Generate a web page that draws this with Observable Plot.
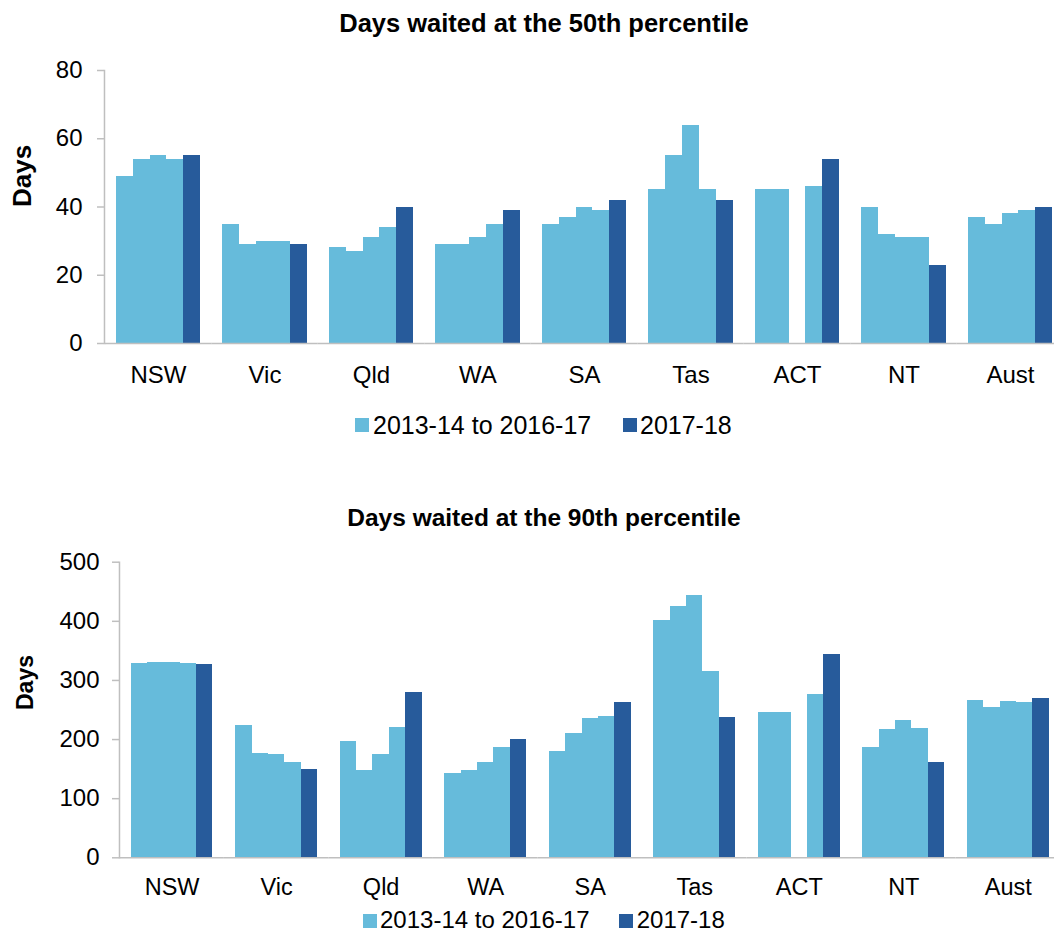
<!DOCTYPE html>
<html><head><meta charset="utf-8">
<script src="https://cdn.jsdelivr.net/npm/d3@7"></script>
<script src="https://cdn.jsdelivr.net/npm/@observablehq/plot@0.6"></script>
<style>
body{margin:0;background:#fff;font-family:"Liberation Sans",Arial,sans-serif;}
#wrap{position:relative;width:1054px;height:933px;}
.title{position:absolute;left:0;width:1088px;text-align:center;font-weight:bold;line-height:1;white-space:nowrap;color:#000;z-index:2;}
.panel{position:absolute;left:0;z-index:1;}
.lt{position:absolute;white-space:nowrap;color:#000;z-index:2;}
.sw{position:absolute;width:14px;height:14px;z-index:2;}
</style></head><body><div id="wrap"></div>
<script>
const states = ["NSW","Vic","Qld","WA","SA","Tas","ACT","NT","Aust"];
const years = ["2013-14","2014-15","2015-16","2016-17","2017-18"];
const seriesNames = ["2013-14 to 2016-17","2017-18"];
const colors = ["#66bbdb","#275b9b"];

// Days waited at the 50th percentile (per state, per year)
const p50NSW = [49, 54, 55, 54, 55];
const p50Vic = [35, 29, 30, 30, 29];
const p50Qld = [28, 27, 31, 34, 40];
const p50WA  = [29, 29, 31, 35, 39];
const p50SA  = [35, 37, 40, 39, 42];
const p50Tas = [45, 55, 64, 45, 42];
const p50ACT = [45, 45, null, 46, 54];
const p50NT  = [40, 32, 31, 31, 23];
const p50Aust= [37, 35, 38, 39, 40];

// Days waited at the 90th percentile
const p90NSW = [329, 331, 330, 328, 327];
const p90Vic = [223, 177, 174, 162, 150];
const p90Qld = [197, 147, 174, 220, 280];
const p90WA  = [143, 148, 161, 187, 200];
const p90SA  = [180, 211, 236, 239, 262];
const p90Tas = [402, 425, 444, 315, 238];
const p90ACT = [246, 245, null, 277, 344];
const p90NT  = [187, 217, 233, 219, 161];
const p90Aust= [266, 254, 264, 262, 269];

const ticks50 = [0, 20, 40, 60, 80];
const ticks90 = [0, 100, 200, 300, 400, 500];

const p50 = [p50NSW,p50Vic,p50Qld,p50WA,p50SA,p50Tas,p50ACT,p50NT,p50Aust];
const p90 = [p90NSW,p90Vic,p90Qld,p90WA,p90SA,p90Tas,p90ACT,p90NT,p90Aust];

const gray = "#bfbfbf";
const font = "'Liberation Sans', Arial, sans-serif";

function toRows(values) {
  return states.flatMap((s, i) => years.map((yr, j) => ({
    state: s, year: yr, value: values[i][j], series: j < 4 ? seriesNames[0] : seriesNames[1]
  }))).filter(d => d.value != null);
}

function panel(values, ticks, o) {
  return Plot.plot({
    width: 1054, height: o.height,
    marginLeft: o.ml, marginRight: 0, marginTop: o.mt, marginBottom: o.mb,
    style: {fontFamily: font, fontSize: "24px", background: "white", color: "#000"},
    fx: {domain: states, range: o.fxRange, paddingInner: o.pi, paddingOuter: o.pi / 2, round: false, label: null},
    x: {domain: years, padding: 0, round: false, axis: null},
    y: {domain: [0, ticks[ticks.length - 1]], label: null},
    color: {domain: seriesNames, range: colors},
    marks: [
      Plot.barY(toRows(values), {fx: "state", x: "year", y: "value", fill: "series", inset: 0, shapeRendering: "crispEdges"}),
      Plot.ruleY([0], {stroke: gray, strokeWidth: 1.5, insetLeft: -o.halfGap, insetRight: -o.halfGap}),
      Plot.frame({anchor: "left", facetAnchor: "left", dx: o.axDx, stroke: gray, strokeWidth: 1.5}),
      Plot.axisY({ticks, tickSize: 7, tickPadding: o.tp, dx: o.axDx, stroke: gray, strokeWidth: 1.5, fill: "#000", fontSize: 24, label: null}),
      Plot.axisFx({anchor: "bottom", tickSize: 0, tickPadding: o.fxtp, fontSize: o.fxfs, fill: "#000", label: null}),
      Plot.text(["Days"], {frameAnchor: "left", facetAnchor: "left", dx: o.daysDx, rotate: -90, fontWeight: "bold", fontSize: o.daysFs, fill: "#000"})
    ]
  });
}

const wrap = document.getElementById("wrap");

function addTitle(text, baseline, fs) {
  const d = document.createElement("div");
  d.className = "title"; d.textContent = text;
  d.style.top = (baseline - fs * 0.8465) + "px"; d.style.fontSize = fs + "px";
  wrap.appendChild(d);
}
function addLegend(items) {
  const L = 0.9;
  for (const it of items) {
    const s = document.createElement("div");
    s.className = "sw"; s.style.left = it.sx + "px"; s.style.top = it.sy + "px"; s.style.background = it.color;
    wrap.appendChild(s);
    const t = document.createElement("div");
    t.className = "lt"; t.textContent = it.label; t.style.left = it.tx + "px";
    t.style.lineHeight = L; t.style.fontSize = it.fs + "px";
    t.style.top = (it.base - it.fs * (L / 2 + 0.3465)) + "px";
    wrap.appendChild(t);
  }
}

const c1 = panel(p50, ticks50, {height: 395, ml: 104, mt: 70, mb: 52, fxRange: [104.75, 1063.25], pi: 0.211, halfGap: 11.25, tp: 15, axDx: -12, fxtp: 22, fxfs: 24, daysDx: -93.5, daysFs: 26});
c1.classList.add("panel"); c1.style.top = "0px";
wrap.appendChild(c1);
addTitle("Days waited at the 50th percentile", 33, 25.5);
addLegend([
  {label: seriesNames[0], color: colors[0], sx: 355, sy: 418, tx: 373, base: 434, fs: 25},
  {label: seriesNames[1], color: colors[1], sx: 622.5, sy: 418, tx: 640, base: 434, fs: 25}
]);

const c2 = panel(p90, ticks90, {height: 400, ml: 119, mt: 61.7, mb: 42.7, fxRange: [119.3, 1060.1], pi: 0.218, halfGap: 11.4, tp: 13, axDx: -11.7, fxtp: 21, fxfs: 23.5, daysDx: -105.7, daysFs: 23});
c2.classList.add("panel"); c2.style.top = "500px";
wrap.appendChild(c2);
addTitle("Days waited at the 90th percentile", 527, 24.5);
addLegend([
  {label: seriesNames[0], color: colors[0], sx: 363, sy: 914, tx: 380, base: 928, fs: 24},
  {label: seriesNames[1], color: colors[1], sx: 619, sy: 914, tx: 636.7, base: 928, fs: 24}
]);
</script></body></html>
